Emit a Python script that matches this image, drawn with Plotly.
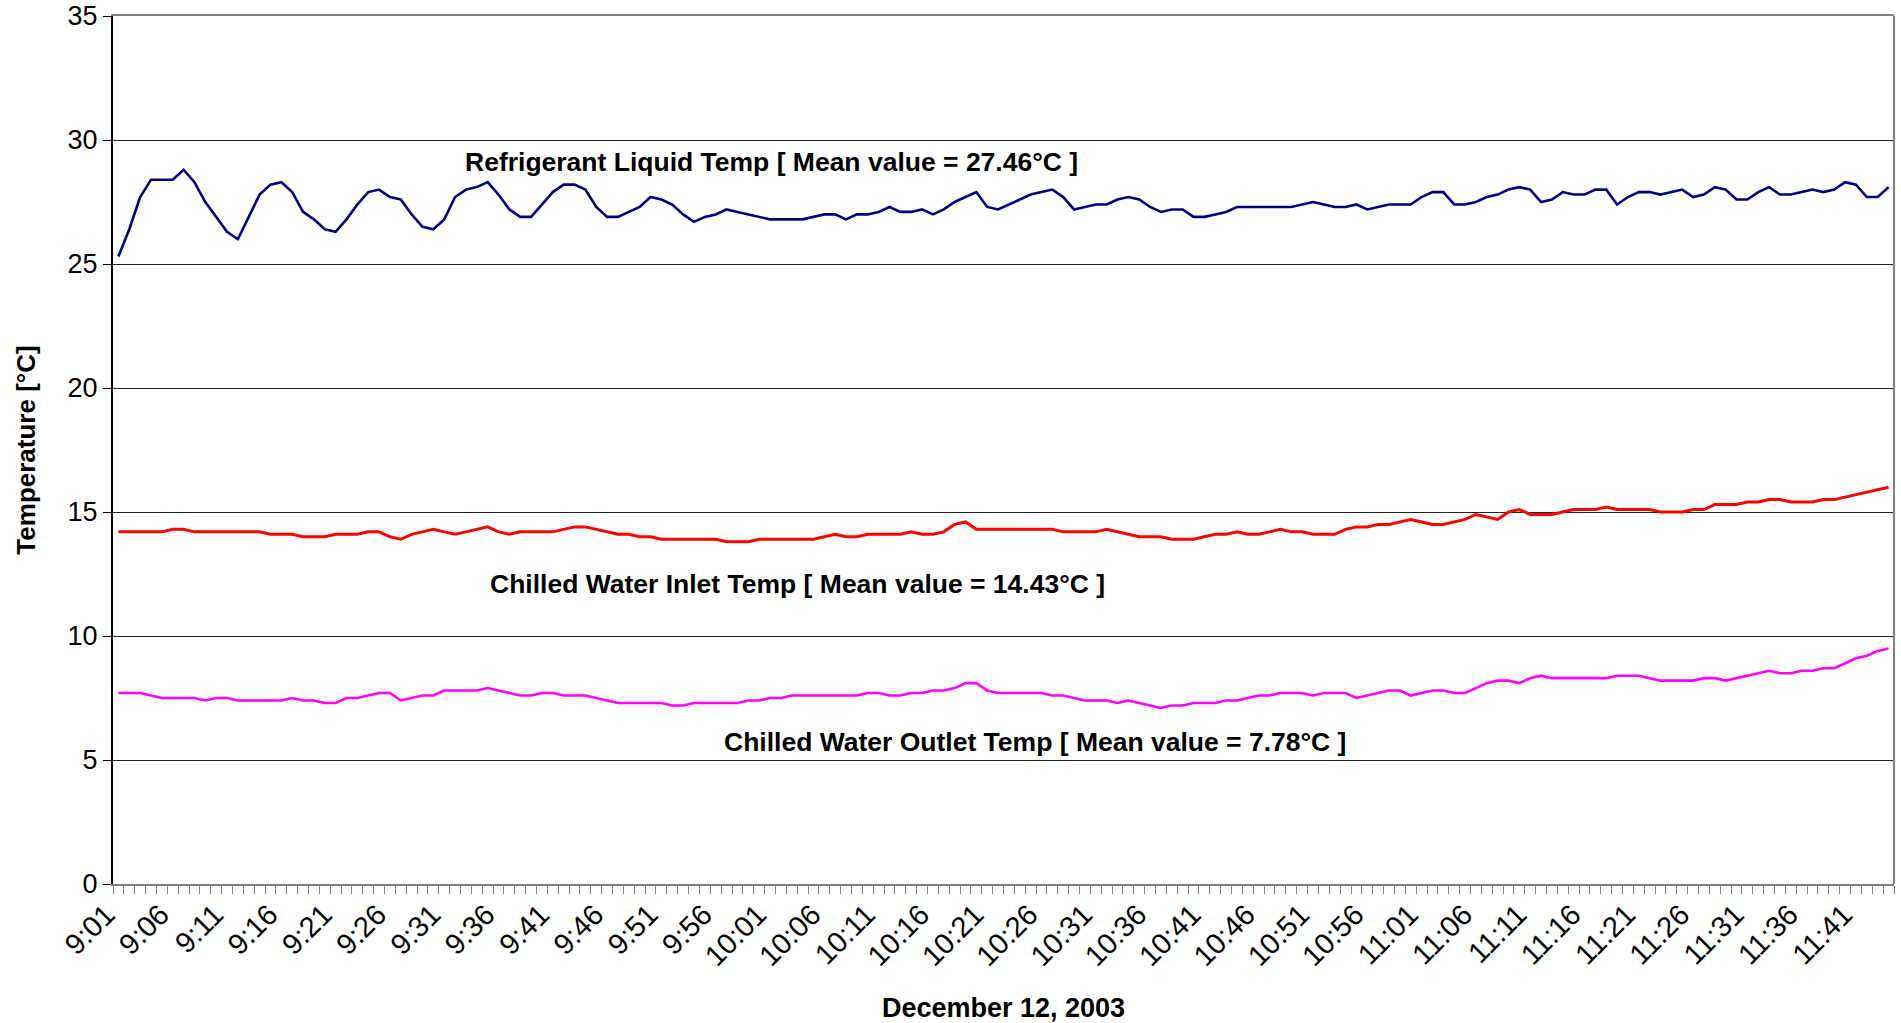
import plotly.graph_objects as go

# Categories: one reading per minute, 9:01 .. 11:44
times = [f"{m // 60}:{m % 60:02d}" for m in range(9 * 60 + 1, 11 * 60 + 45)]
tick_labels = times[::5]

refrigerant_liquid = [
    25.3, 26.4, 27.7, 28.4, 28.4, 28.4, 28.8, 28.3, 27.5, 26.9,
    26.3, 26.0, 26.9, 27.8, 28.2, 28.3, 27.9, 27.1, 26.8, 26.4,
    26.3, 26.8, 27.4, 27.9, 28.0, 27.7, 27.6, 27.0, 26.5, 26.4,
    26.8, 27.7, 28.0, 28.1, 28.3, 27.8, 27.2, 26.9, 26.9, 27.4,
    27.9, 28.2, 28.2, 28.0, 27.3, 26.9, 26.9, 27.1, 27.3, 27.7,
    27.6, 27.4, 27.0, 26.7, 26.9, 27.0, 27.2, 27.1, 27.0, 26.9,
    26.8, 26.8, 26.8, 26.8, 26.9, 27.0, 27.0, 26.8, 27.0, 27.0,
    27.1, 27.3, 27.1, 27.1, 27.2, 27.0, 27.2, 27.5, 27.7, 27.9,
    27.3, 27.2, 27.4, 27.6, 27.8, 27.9, 28.0, 27.7, 27.2, 27.3,
    27.4, 27.4, 27.6, 27.7, 27.6, 27.3, 27.1, 27.2, 27.2, 26.9,
    26.9, 27.0, 27.1, 27.3, 27.3, 27.3, 27.3, 27.3, 27.3, 27.4,
    27.5, 27.4, 27.3, 27.3, 27.4, 27.2, 27.3, 27.4, 27.4, 27.4,
    27.7, 27.9, 27.9, 27.4, 27.4, 27.5, 27.7, 27.8, 28.0, 28.1,
    28.0, 27.5, 27.6, 27.9, 27.8, 27.8, 28.0, 28.0, 27.4, 27.7,
    27.9, 27.9, 27.8, 27.9, 28.0, 27.7, 27.8, 28.1, 28.0, 27.6,
    27.6, 27.9, 28.1, 27.8, 27.8, 27.9, 28.0, 27.9, 28.0, 28.3,
    28.2, 27.7, 27.7, 28.1,
]

chilled_inlet = [
    14.2, 14.2, 14.2, 14.2, 14.2, 14.3, 14.3, 14.2, 14.2, 14.2,
    14.2, 14.2, 14.2, 14.2, 14.1, 14.1, 14.1, 14.0, 14.0, 14.0,
    14.1, 14.1, 14.1, 14.2, 14.2, 14.0, 13.9, 14.1, 14.2, 14.3,
    14.2, 14.1, 14.2, 14.3, 14.4, 14.2, 14.1, 14.2, 14.2, 14.2,
    14.2, 14.3, 14.4, 14.4, 14.3, 14.2, 14.1, 14.1, 14.0, 14.0,
    13.9, 13.9, 13.9, 13.9, 13.9, 13.9, 13.8, 13.8, 13.8, 13.9,
    13.9, 13.9, 13.9, 13.9, 13.9, 14.0, 14.1, 14.0, 14.0, 14.1,
    14.1, 14.1, 14.1, 14.2, 14.1, 14.1, 14.2, 14.5, 14.6, 14.3,
    14.3, 14.3, 14.3, 14.3, 14.3, 14.3, 14.3, 14.2, 14.2, 14.2,
    14.2, 14.3, 14.2, 14.1, 14.0, 14.0, 14.0, 13.9, 13.9, 13.9,
    14.0, 14.1, 14.1, 14.2, 14.1, 14.1, 14.2, 14.3, 14.2, 14.2,
    14.1, 14.1, 14.1, 14.3, 14.4, 14.4, 14.5, 14.5, 14.6, 14.7,
    14.6, 14.5, 14.5, 14.6, 14.7, 14.9, 14.8, 14.7, 15.0, 15.1,
    14.9, 14.9, 14.9, 15.0, 15.1, 15.1, 15.1, 15.2, 15.1, 15.1,
    15.1, 15.1, 15.0, 15.0, 15.0, 15.1, 15.1, 15.3, 15.3, 15.3,
    15.4, 15.4, 15.5, 15.5, 15.4, 15.4, 15.4, 15.5, 15.5, 15.6,
    15.7, 15.8, 15.9, 16.0,
]

chilled_outlet = [
    7.7, 7.7, 7.7, 7.6, 7.5, 7.5, 7.5, 7.5, 7.4, 7.5,
    7.5, 7.4, 7.4, 7.4, 7.4, 7.4, 7.5, 7.4, 7.4, 7.3,
    7.3, 7.5, 7.5, 7.6, 7.7, 7.7, 7.4, 7.5, 7.6, 7.6,
    7.8, 7.8, 7.8, 7.8, 7.9, 7.8, 7.7, 7.6, 7.6, 7.7,
    7.7, 7.6, 7.6, 7.6, 7.5, 7.4, 7.3, 7.3, 7.3, 7.3,
    7.3, 7.2, 7.2, 7.3, 7.3, 7.3, 7.3, 7.3, 7.4, 7.4,
    7.5, 7.5, 7.6, 7.6, 7.6, 7.6, 7.6, 7.6, 7.6, 7.7,
    7.7, 7.6, 7.6, 7.7, 7.7, 7.8, 7.8, 7.9, 8.1, 8.1,
    7.8, 7.7, 7.7, 7.7, 7.7, 7.7, 7.6, 7.6, 7.5, 7.4,
    7.4, 7.4, 7.3, 7.4, 7.3, 7.2, 7.1, 7.2, 7.2, 7.3,
    7.3, 7.3, 7.4, 7.4, 7.5, 7.6, 7.6, 7.7, 7.7, 7.7,
    7.6, 7.7, 7.7, 7.7, 7.5, 7.6, 7.7, 7.8, 7.8, 7.6,
    7.7, 7.8, 7.8, 7.7, 7.7, 7.9, 8.1, 8.2, 8.2, 8.1,
    8.3, 8.4, 8.3, 8.3, 8.3, 8.3, 8.3, 8.3, 8.4, 8.4,
    8.4, 8.3, 8.2, 8.2, 8.2, 8.2, 8.3, 8.3, 8.2, 8.3,
    8.4, 8.5, 8.6, 8.5, 8.5, 8.6, 8.6, 8.7, 8.7, 8.9,
    9.1, 9.2, 9.4, 9.5,
]

series_names = ["Refrigerant Liquid Temp", "Chilled Water Inlet Temp", "Chilled Water Outlet Temp"]
series_values = [refrigerant_liquid, chilled_inlet, chilled_outlet]
series_colors = ["#000080", "#FF0000", "#FF00FF"]
series_widths = [2.6, 3.0, 2.6]
label_texts = [
    "Refrigerant Liquid Temp [ Mean value = 27.46°C ]",
    "Chilled Water Inlet Temp [ Mean value = 14.43°C ]",
    "Chilled Water Outlet Temp [ Mean value = 7.78°C ]",
]
label_x = [0.3697, 0.3841, 0.5175]
label_y = [29.1, 12.1, 5.74]

FONT = "Liberation Sans, Arial, sans-serif"
x = list(range(len(times)))

fig = go.Figure()
for name, vals, col, w in zip(series_names, series_values, series_colors, series_widths):
    fig.add_trace(go.Scatter(
        x=x, y=vals, name=name, mode="lines",
        line=dict(color=col, width=w),
        customdata=times,
        hovertemplate="%{customdata}: %{y}°C<extra>" + name + "</extra>",
    ))

for txt, lx, ly in zip(label_texts, label_x, label_y):
    fig.add_annotation(
        text="<b>" + txt + "</b>", xref="paper", yref="y", x=lx, y=ly,
        xanchor="center", yanchor="middle", showarrow=False,
        font=dict(size=26.5, family=FONT, color="black"),
    )

fig.add_shape(type="line", xref="paper", yref="paper", x0=1, x1=1, y0=0, y1=1,
              line=dict(color="#808080", width=2))

fig.update_layout(
    width=1901, height=1023,
    margin=dict(l=113, r=7, t=16, b=139),
    plot_bgcolor="white", paper_bgcolor="white",
    showlegend=False,
    font=dict(family=FONT, color="black"),
)

fig.update_xaxes(
    range=[-0.5, len(times) - 0.5],
    tickmode="array", tickvals=x[::5], ticktext=tick_labels,
    tickangle=-45, ticks="", tickfont=dict(size=29, family=FONT, color="black"),
    ticklabelstandoff=0, ticklabelshift=-12,
    minor=dict(tick0=-0.5, dtick=1, ticks="outside", ticklen=8,
               tickcolor="#808080", tickwidth=1, showgrid=False),
    showgrid=False, zeroline=False,
    showline=True, linecolor="#808080", linewidth=2, mirror=True,
    automargin=False,
    title=dict(text="<b>December 12, 2003</b>", font=dict(size=27, family=FONT, color="black"), standoff=36),
)

fig.update_yaxes(
    range=[0, 35], tick0=0, dtick=5,
    ticks="outside", ticklen=8, tickcolor="black", tickwidth=1,
    tickfont=dict(size=27, family=FONT, color="black"),
    showgrid=True, gridcolor="#222222", gridwidth=1,
    zeroline=False,
    showline=True, linecolor="black", linewidth=2,
    automargin=False,
    title=dict(text="<b>Temperature [°C]</b>", font=dict(size=26, family=FONT, color="black"), standoff=24),
)

fig.write_html("out.html", config={"displayModeBar": False},
               post_script="document.body.style.margin='0px';")
